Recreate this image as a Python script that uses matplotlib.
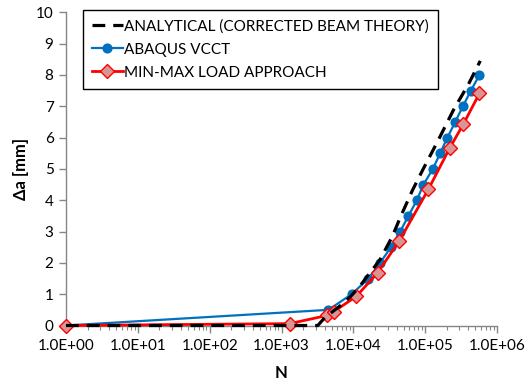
import matplotlib
matplotlib.use("Agg")
import matplotlib.pyplot as plt
from matplotlib.ticker import FixedLocator, FixedFormatter, LogLocator, NullFormatter

# ---- data ----
n_analytical = [1, 3200, 4000, 5200, 7000, 9100, 12000, 15500, 23500, 35000, 45000,
                66000, 94000, 147000, 250000, 400000, 585000]
a_analytical = [0, 0, 0.25, 0.45, 0.68, 0.92, 1.22, 1.56, 2.1, 2.85, 3.45,
                4.3, 5.0, 5.85, 6.9, 7.7, 8.45]

n_vcct = [1, 4500, 9500, 16200, 23600, 33400, 44900, 58500, 76600, 94700, 128000,
          162000, 204000, 262000, 335000, 433000, 570000]
a_vcct = [0, 0.5, 1.0, 1.5, 2.0, 2.5, 3.0, 3.5, 4.0, 4.5, 5.0,
          5.5, 6.0, 6.5, 7.0, 7.5, 8.0]

n_minmax = [1, 1300, 4300, 5300, 11000, 21700, 43600, 111000, 219000, 340000, 570000]
a_minmax = [0, 0.06, 0.32, 0.44, 0.93, 1.68, 2.7, 4.35, 5.66, 6.43, 7.41]

x_ticks = [1, 10, 100, 1000, 10000, 100000, 1000000]
x_tick_labels = ["1.0E+00", "1.0E+01", "1.0E+02", "1.0E+03", "1.0E+04", "1.0E+05", "1.0E+06"]
y_ticks = [0, 1, 2, 3, 4, 5, 6, 7, 8, 9, 10]

labels = ["ANALYTICAL (CORRECTED BEAM THEORY)", "ABAQUS VCCT", "MIN-MAX LOAD APPROACH"]

plt.rcParams['font.family'] = ['Lato', 'DejaVu Sans']

W, H = 527, 381
fig = plt.figure(figsize=(W / 100, H / 100), dpi=100)
ax = fig.add_axes([66 / W, 1 - 325.5 / H, (497 - 66) / W, (325.5 - 12.3) / H])

gray = '#868686'

h_an, = ax.plot(n_analytical, a_analytical, color='black', lw=2.3, ls=(0, (4, 2.5)),
                zorder=5, label=labels[0], clip_on=False)
h_vc, = ax.plot(n_vcct, a_vcct, color='#0070c0', lw=1.6, marker='o', ms=6.3,
                markerfacecolor='#0070c0', markeredgecolor='#0070c0', zorder=3,
                label=labels[1], clip_on=False)
h_mm, = ax.plot(n_minmax, a_minmax, color='#ff0000', lw=2.0, marker='D', ms=6.8,
                markerfacecolor='#d99594', markeredgecolor='#ff0000', markeredgewidth=1.0,
                zorder=4, label=labels[2], clip_on=False)

ax.set_xscale('log')
ax.set_xlim(1, 1e6)
ax.set_ylim(0, 10)

ax.xaxis.set_major_locator(FixedLocator(x_ticks))
ax.xaxis.set_major_formatter(FixedFormatter(x_tick_labels))
ax.xaxis.set_minor_locator(LogLocator(base=10, subs=range(2, 10)))
ax.xaxis.set_minor_formatter(NullFormatter())
ax.set_yticks(y_ticks)

for s in ['top', 'right']:
    ax.spines[s].set_visible(False)
for s in ['left', 'bottom']:
    ax.spines[s].set_color(gray)
    ax.spines[s].set_linewidth(1.0)

ax.tick_params(axis='both', which='major', direction='out', length=5, color=gray,
               width=1.0, labelsize=11, colors='black')
ax.tick_params(axis='x', which='minor', direction='out', length=3, color=gray, width=0.8)
ax.tick_params(axis='x', which='major', pad=5)
ax.tick_params(axis='y', which='major', pad=4)
for t in ax.get_xticklabels() + ax.get_yticklabels():
    t.set_color('black')

ax.set_xlabel('N', fontsize=12, fontweight='bold', labelpad=8)
ax.set_ylabel('Δa [mm]', fontsize=12, fontweight='bold', labelpad=5)

leg = ax.legend(handles=[h_an, h_vc, h_mm], loc='upper left',
                bbox_to_anchor=(83 / W, 1 - 92 / H, (438 - 83) / W, (92 - 10) / H),
                bbox_transform=fig.transFigure, mode='expand',
                fontsize=11, frameon=True, fancybox=False, framealpha=1,
                edgecolor='black', handlelength=2.0, handletextpad=0.1,
                labelspacing=0.6, borderpad=0.6, borderaxespad=0)
leg.get_frame().set_linewidth(1.0)

fig.savefig('out.png', dpi=100)
